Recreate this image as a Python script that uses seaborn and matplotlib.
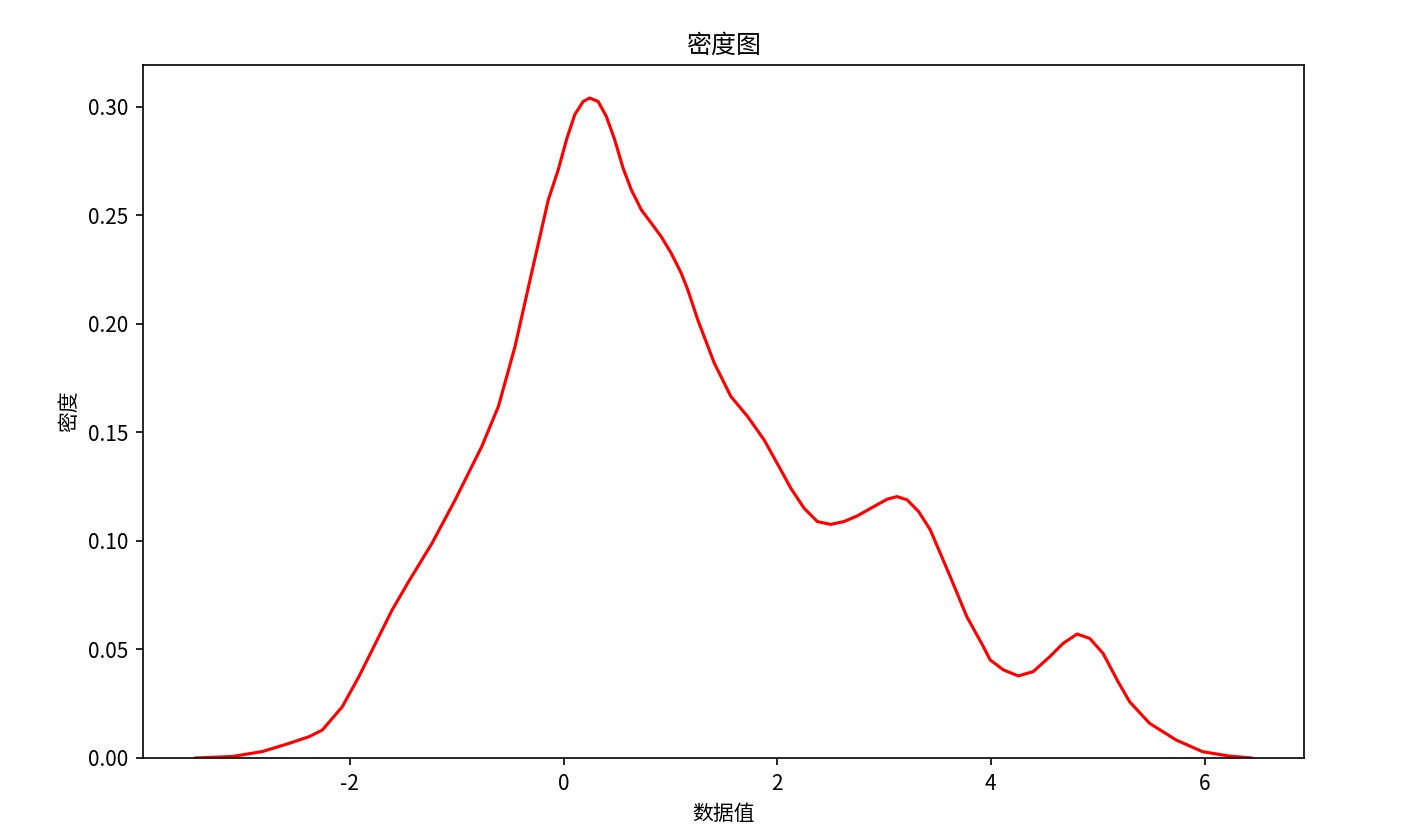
import matplotlib
matplotlib.use("Agg")
import matplotlib.pyplot as plt
import seaborn as sns
import pandas as pd

# Density curve
x_values = [-3.442, -3.097, -2.817, -2.584, -2.382, -2.257, -2.071, -1.915, -1.760, -1.604,
            -1.449, -1.231, -1.014, -0.765, -0.609, -0.454, -0.299, -0.143, -0.049, 0.028,
            0.105, 0.184, 0.245, 0.324, 0.401, 0.479, 0.557, 0.634, 0.728, 0.821,
            0.914, 1.007, 1.101, 1.163, 1.257, 1.411, 1.567, 1.723, 1.878, 2.034,
            2.127, 2.251, 2.376, 2.500, 2.624, 2.749, 2.904, 3.029, 3.122, 3.216,
            3.324, 3.433, 3.619, 3.775, 3.930, 3.993, 4.117, 4.257, 4.397, 4.552,
            4.676, 4.807, 4.925, 5.050, 5.190, 5.299, 5.485, 5.734, 5.982, 6.231,
            6.437]
density = [0.0, 0.0007, 0.003, 0.0065, 0.0098, 0.0129, 0.0236, 0.0375, 0.0528, 0.0682,
           0.0813, 0.0989, 0.1189, 0.1435, 0.162, 0.1895, 0.2233, 0.257, 0.271, 0.2848,
           0.2963, 0.3024, 0.304, 0.3024, 0.2955, 0.2848, 0.2718, 0.2618, 0.2525, 0.2464,
           0.2402, 0.2326, 0.2234, 0.2157, 0.2018, 0.1819, 0.1665, 0.1573, 0.1465, 0.1327,
           0.1243, 0.1151, 0.1089, 0.1076, 0.1089, 0.1115, 0.1158, 0.1192, 0.1204, 0.1189,
           0.1135, 0.1051, 0.0836, 0.0651, 0.0513, 0.0452, 0.0406, 0.0378, 0.0398, 0.0467,
           0.0528, 0.0571, 0.0551, 0.0482, 0.0352, 0.0259, 0.016, 0.0083, 0.0029, 0.0009,
           0.0]

title = "密度图"
xlabel = "数据值"
ylabel = "密度"

plt.rcParams['font.family'] = ['Noto Sans CJK SC', 'DejaVu Sans']
plt.rcParams['axes.unicode_minus'] = False

df = pd.DataFrame({"x": x_values, "d": density})

DPI = 150
fig = plt.figure(figsize=(1405 / DPI, 835 / DPI), dpi=DPI)
ax = fig.add_axes([143 / 1405, 77 / 835, (1304 - 143) / 1405, (758 - 65) / 835])
sns.lineplot(data=df, x="x", y="d", color="red", linewidth=1.5, ax=ax)
ax.set_ylim(bottom=0)
ax.set_title(title, fontsize=12)
ax.set_xlabel(xlabel, fontsize=10)
ax.set_ylabel(ylabel, fontsize=10)
ax.set_xticks([-2, 0, 2, 4, 6])
ax.set_yticks([0.0, 0.05, 0.10, 0.15, 0.20, 0.25, 0.30])
ax.set_yticklabels(["0.00", "0.05", "0.10", "0.15", "0.20", "0.25", "0.30"])
fig.savefig("out.png", dpi=DPI)
